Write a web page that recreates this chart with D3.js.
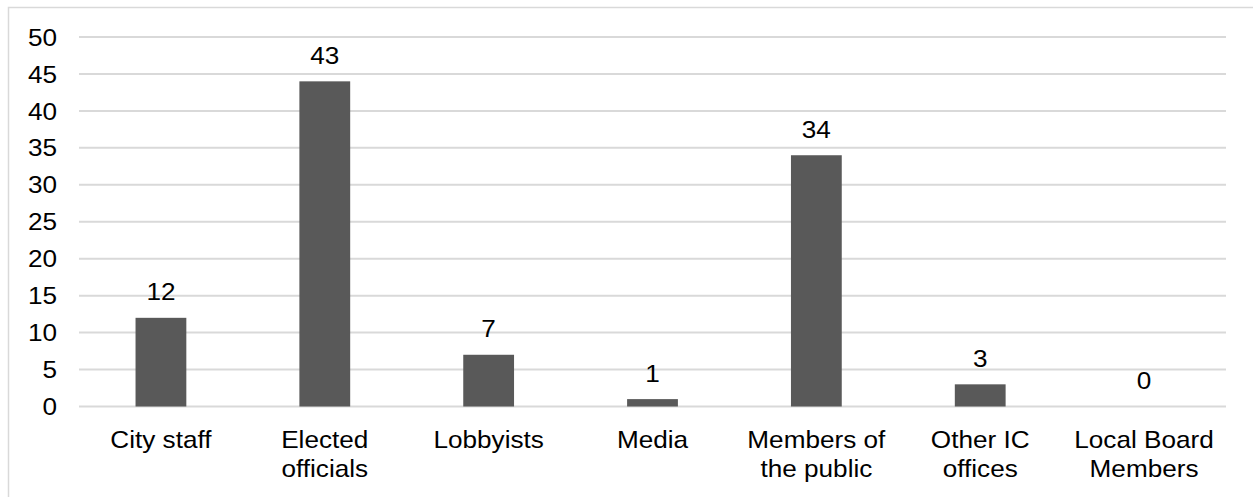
<!DOCTYPE html>
<html>
<head>
  <meta charset="utf-8">
  <title>Bar chart</title>
  <script src="https://d3js.org/d3.v7.min.js"></script>
  <style>
    body { margin: 0; background: #fff; }
    text { font-family: "Liberation Sans", Arial, sans-serif; fill: #000; font-size: 24px; }
  </style>
</head>
<body>
  <svg id="chart"></svg>

  <script>
    const categories = [
      ["City staff"],
      ["Elected", "officials"],
      ["Lobbyists"],
      ["Media"],
      ["Members of", "the public"],
      ["Other IC", "offices"],
      ["Local Board", "Members"]
    ];
    // bar heights as drawn, and the data labels printed above them
    const values = [12, 44, 7, 1, 34, 3, 0];
    const valueLabels = ["12", "43", "7", "1", "34", "3", "0"];
    const yTicks = [0, 5, 10, 15, 20, 25, 30, 35, 40, 45, 50];

    const width = 1253;
    const height = 497;
    const margin = { top: 37, right: 27, bottom: 90, left: 79 };
    const stretch = 1.09; // text in the source is slightly wide

    const svg = d3.select("#chart")
      .attr("width", width)
      .attr("height", height);

    // outer chart frame (runs off right and bottom edges)
    svg.append("rect")
      .attr("x", 8.5)
      .attr("y", 7.5)
      .attr("width", width + 20)
      .attr("height", height + 20)
      .attr("fill", "none")
      .attr("stroke", "#d9d9d9")
      .attr("stroke-width", 1.5);

    const x = d3.scaleBand()
      .domain(d3.range(categories.length))
      .range([margin.left, width - margin.right])
      .paddingInner(0.69)
      .paddingOuter(0.345);

    const y = d3.scaleLinear()
      .domain([0, 50])
      .range([406.5, margin.top]);

    const place = (px, py) => `translate(${px},${py}) scale(${stretch},1)`;

    // gridlines
    svg.append("g")
      .selectAll("line")
      .data(yTicks)
      .join("line")
      .attr("x1", margin.left)
      .attr("x2", width - margin.right)
      .attr("y1", d => y(d))
      .attr("y2", d => y(d))
      .attr("stroke", "#d9d9d9")
      .attr("stroke-width", 2);

    // y axis labels
    svg.append("g")
      .selectAll("text")
      .data(yTicks)
      .join("text")
      .attr("transform", d => place(57, y(d)))
      .attr("dy", "0.36em")
      .attr("text-anchor", "end")
      .text(d => d);

    // bars
    svg.append("g")
      .selectAll("rect")
      .data(values)
      .join("rect")
      .attr("x", (d, i) => x(i))
      .attr("width", x.bandwidth())
      .attr("y", d => y(d))
      .attr("height", d => y(0) - y(d))
      .attr("fill", "#595959");

    // value labels
    svg.append("g")
      .selectAll("text")
      .data(values)
      .join("text")
      .attr("transform", (d, i) => place(x(i) + x.bandwidth() / 2, y(d) - 17.5))
      .attr("text-anchor", "middle")
      .text((d, i) => valueLabels[i]);

    // category labels
    const cat = svg.append("g")
      .selectAll("text")
      .data(categories)
      .join("text")
      .attr("transform", (d, i) => place(x(i) + x.bandwidth() / 2, 448))
      .attr("text-anchor", "middle");

    cat.selectAll("tspan")
      .data(d => d)
      .join("tspan")
      .attr("x", 0)
      .attr("dy", (d, i) => i === 0 ? 0 : 29)
      .text(d => d);
  </script>
</body>
</html>
